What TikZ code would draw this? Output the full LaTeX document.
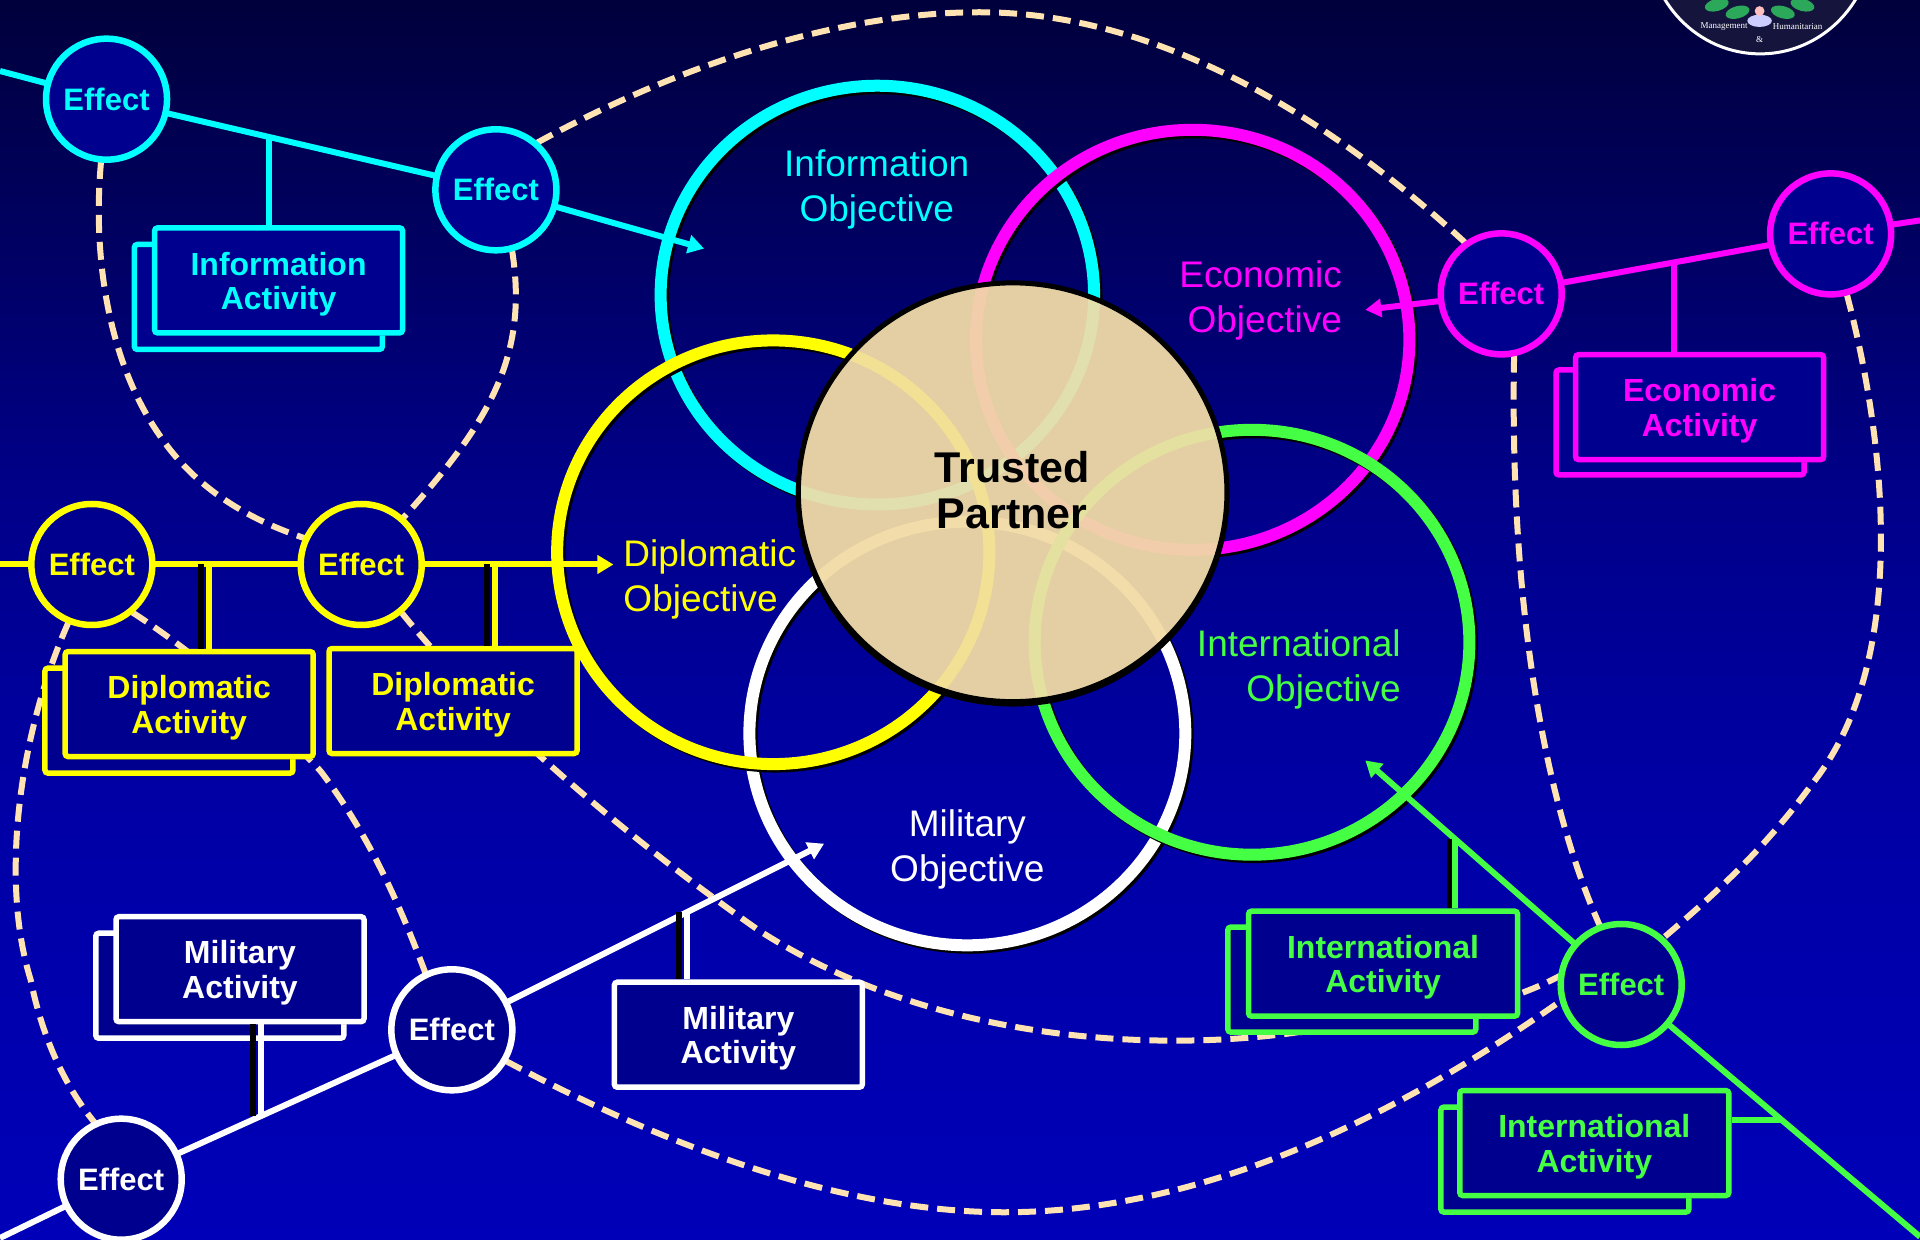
\documentclass[tikz,border=0pt]{standalone}
\usepackage{fontspec}
\setmainfont{Liberation Sans}
\newfontfamily\logofont{Liberation Serif}
\usetikzlibrary{arrows.meta,shadows,calc}
\definecolor{cCyan}{HTML}{00FFFF}
\definecolor{cMag}{HTML}{FF00FF}
\definecolor{cYel}{HTML}{FFFF00}
\definecolor{cGrn}{HTML}{44FF44}
\definecolor{cDash}{HTML}{FFE3B3}
\definecolor{cFill}{HTML}{00008E}
\definecolor{cTan}{HTML}{E3CFA3}
\definecolor{cSeal}{HTML}{14143C}
\definecolor{cLeaf}{HTML}{2BA85A}
\definecolor{tCyan}{HTML}{E2DFAE}
\definecolor{tMag}{HTML}{F2CDAB}
\definecolor{tWhite}{HTML}{F2DDAA}
\definecolor{tYel}{HTML}{F2E095}
\definecolor{tGrn}{HTML}{E4E09F}
\definecolor{sA}{HTML}{0000B8}
\definecolor{sB}{HTML}{0000A5}
\definecolor{sC}{HTML}{000088}
\definecolor{sD}{HTML}{000050}
\definecolor{sE}{HTML}{00003C}
\pgfdeclareverticalshading{bgshade}{100bp}{
  color(0bp)=(sA);
  color(25bp)=(sA);
  color(42.75bp)=(sB);
  color(55.5bp)=(sC);
  color(70bp)=(sD);
  color(75bp)=(sE);
  color(100bp)=(sE)}
\tikzset{
  softshadow/.style={general shadow={fill=black,shadow xshift=1.5pt,shadow yshift=-2.5pt}},
  effectnode/.style={circle,draw=#1,text=#1,fill=cFill,line width=6.5pt,minimum size=121pt,inner sep=0pt,
    font=\fontsize{31}{35}\selectfont\bfseries,softshadow},
  actbox/.style={rectangle,rounded corners=3pt,draw=#1,text=#1,fill=cFill,line width=5.5pt,minimum height=105pt,
    minimum width=248pt,inner sep=0pt,align=center,font=\fontsize{32}{34.5}\selectfont\bfseries,softshadow},
  objring/.style={line width=12pt},
  objtext/.style={text=#1,inner sep=0pt,font=\fontsize{37}{45}\selectfont},
  conn/.style={draw=#1,line width=6pt},
  blk/.style={draw=black,line width=6pt},
  arr/.style={conn=#1,-{Triangle[length=16pt,width=18pt]}},
  dashline/.style={draw=cDash,line width=6pt,dash pattern=on 18pt off 9pt},
  sealtext/.style={text=white,inner sep=0pt,font=\logofont\fontsize{9}{9}\selectfont},
  ghost/.style={circle,minimum size=124pt,inner sep=0pt,outer sep=0pt},
}
\newcommand{\ringdraw}[5]{%
  \draw[objring,black] (#1+2,#2+2) circle[x radius=#3,y radius=#4];
  \draw[objring,#5] (#1,#2) circle[x radius=#3,y radius=#4];}
\newcommand{\boxlift}{\rule{0pt}{30.5pt}}
\begin{document}
\begin{tikzpicture}[x=1.2245pt,y=-1.2245pt]
\path[use as bounding box] (0,0) rectangle (1568,1012.65);
\clip (0,0) rectangle (1568,1012.65);
\shade[shading=bgshade] (0,0) rectangle (1568,1012.65);
% seal
\filldraw[fill=cSeal,draw=white,line width=3pt] (1437.5,-51) circle[x radius=92,y radius=95];
\fill[cLeaf,rotate around={15:(1419,10)}] (1419,10) circle[x radius=10,y radius=5];
\fill[cLeaf,rotate around={-15:(1456,10)}] (1456,10) circle[x radius=10,y radius=5];
\fill[cLeaf,rotate around={15:(1402,4)}] (1402,4) circle[x radius=10,y radius=5];
\fill[cLeaf,rotate around={-15:(1472,4)}] (1472,4) circle[x radius=10,y radius=5];
\fill[blue!20!white] (1437,17) circle[x radius=10,y radius=5];
\fill[pink] (1437,9) circle[radius=4];
\node[sealtext] (S1) at (1408,22) {Management};
\node[sealtext] (S2) at (1437,32) {\&};
\node[sealtext] (S3) at (1468,22) {Humanitarian};
% objective rings
\ringdraw{716.5}{241}{177}{171}{cCyan}
\ringdraw{974}{277.5}{177}{171.5}{cMag}
\ringdraw{790}{599}{178}{173}{white}
\ringdraw{631.5}{451}{176.5}{173}{cYel}
\ringdraw{1022.5}{524.5}{177.5}{173.5}{cGrn}
% trusted partner disc with tinted ring overlaps
\fill[black] (827,404) circle[x radius=177,y radius=173];
\fill[cTan] (827,402) circle[x radius=175,y radius=171];
\begin{scope}
\clip (827,402) circle[x radius=175,y radius=171];
\draw[objring,tCyan] (716.5,241) circle[x radius=177,y radius=171];
\draw[objring,tMag] (974,277.5) circle[x radius=177,y radius=171.5];
\draw[objring,tWhite] (790,599) circle[x radius=178,y radius=173];
\draw[objring,tYel] (631.5,451) circle[x radius=176.5,y radius=173];
\draw[objring,tGrn] (1022.5,524.5) circle[x radius=177.5,y radius=173.5];
\end{scope}
\draw[black,line width=5pt] (827,402) circle[x radius=175,y radius=171];
\node[align=center,text=black,inner sep=0pt,font=\fontsize{43}{46.5}\selectfont\bfseries] (TP) at (826.5,400.3) {Trusted\\Partner};
\path
  (87,81) coordinate (cE1) (405,155) coordinate (cE2)
  (75,461) coordinate (cE3) (295,461) coordinate (cE4)
  (369,841) coordinate (cE5) (99,963) coordinate (cE6)
  (1324,804) coordinate (cE7) (1226,240) coordinate (cE8)
  (1495,191) coordinate (cE9);
% free ends
\coordinate (tipInfo) at (575,203);
\coordinate (tipDip) at (501,461);
\coordinate (tipEco) at (1115,253);
\coordinate (tipMil) at (673,689);
\coordinate (tipInt) at (1115,621);
\coordinate (edgeInfo) at (0,58);
\coordinate (edgeDip) at (0,461);
\coordinate (edgeEco) at (1568,180);
\coordinate (edgeMil) at (0,1011);
\coordinate (edgeInt) at (1568,1010);
% dashed links
\foreach \n in {1,...,9}{\node[ghost] (G\n) at (cE\n) {};}
\draw[dashline] (G2.49) .. controls (560,50) and (690,10) .. (800,10)
  .. controls (950,10) and (1090,100) .. (G8.125);
\draw[dashline] (G1.-95) .. controls (76,200) and (85,290) .. (130,355)
  .. controls (160,400) and (205,425) .. (G4.155);
\draw[dashline] (G2.-75) .. controls (432,290) and (400,345) .. (G4.48);
\draw[dashline] (G3.-50) .. controls (170,540) and (235,600) .. (262,630)
  .. controls (300,680) and (325,735) .. (G5.115);
\draw[dashline] (G3.-112) .. controls (15,600) and (0,720) .. (25,800)
  .. controls (35,850) and (55,890) .. (G6.115);
\draw[dashline] (G4.-50) .. controls (400,590) and (520,690) .. (620,760)
  .. controls (760,850) and (940,860) .. (1060,843)
  .. controls (1140,838) and (1220,826) .. (G7.172);
\draw[dashline] (G5.-30) .. controls (560,945) and (700,990) .. (820,990)
  .. controls (990,990) and (1150,905) .. (G7.195);
\draw[dashline] (G8.-78) .. controls (1233,470) and (1255,640) .. (G7.110);
\draw[dashline] (G9.-75) .. controls (1540,360) and (1560,540) .. (1480,640)
  .. controls (1440,695) and (1395,735) .. (G7.48);
% branch junctions
\coordinate (jInfo) at (220,112);
\coordinate (jDipA) at (170.5,461);
\coordinate (jDipB) at (404,461);
\coordinate (jEco) at (1367,214);
\coordinate (jMilB) at (561,745);
\coordinate (jMilA) at (213,911.5);
\coordinate (jIntA) at (1188,685);
\coordinate (jIntB) at (1455,915);
% connectors
\draw[conn=cCyan] (edgeInfo) -- (G1);
\draw[conn=cCyan] (G1) -- (G2);
\draw[arr=cCyan] (G2) -- (tipInfo);
\draw[conn=cYel] (edgeDip) -- (G3);
\draw[conn=cYel] (G3) -- (G4);
\draw[arr=cYel] (G4) -- (tipDip);
\draw[conn=cMag] (edgeEco) -- (G9);
\draw[conn=cMag] (G9) -- (G8);
\draw[arr=cMag] (G8) -- (tipEco);
\draw[conn=white] (edgeMil) -- (G6);
\draw[conn=white] (G6) -- (G5);
\draw[arr=white] (G5) -- (tipMil);
\draw[arr=cGrn] (G7) -- (tipInt);
\draw[conn=cGrn] (G7) -- (edgeInt);
% activity boxes
\node[actbox=cCyan] (IAb) at (211,242.5) {};
\node[actbox=cCyan] (IA) at (227.5,229) {\boxlift Information\\Activity};
\node[actbox=cMag] (EAb) at (1372,345) {};
\node[actbox=cMag] (EA) at (1388,332.5) {\boxlift Economic\\Activity};
\node[actbox=cYel] (DAb) at (138,588.5) {};
\node[actbox=cYel] (DA) at (154.5,575) {\boxlift Diplomatic\\Activity};
\node[actbox=cYel] (DB) at (370,572.5) {\boxlift Diplomatic\\Activity};
\node[actbox=white] (MAb) at (179.5,805) {};
\node[actbox=white] (MA) at (196,791.5) {\boxlift Military\\Activity};
\node[actbox=white] (MB) at (603,845) {\boxlift Military\\Activity};
\node[actbox=cGrn] (IAAb) at (1104,800) {};
\node[actbox=cGrn,minimum width=269pt] (IAA) at (1129.5,787) {\boxlift International\\Activity};
\node[actbox=cGrn] (IBAb) at (1278,947) {};
\node[actbox=cGrn,minimum width=269pt] (IBA) at (1302,933.5) {\boxlift International\\Activity};
% branches
\draw[conn=cCyan] (jInfo) -- (jInfo |- IA.north);
\draw[blk] ([xshift=-8pt]jDipA) -- ([xshift=-8pt]jDipA |- DA.north);
\draw[conn=cYel] (jDipA) -- (jDipA |- DA.north);
\draw[blk] ([xshift=-8pt]jDipB) -- ([xshift=-8pt]jDipB |- DB.north);
\draw[conn=cYel] (jDipB) -- (jDipB |- DB.north);
\draw[conn=cMag] (jEco) -- (jEco |- EA.north);
\draw[blk] ([xshift=-8pt]jMilB) -- ([xshift=-8pt]jMilB |- MB.north);
\draw[conn=white] (jMilB) -- (jMilB |- MB.north);
\draw[blk] ([xshift=-8pt]jMilA) -- ([xshift=-8pt]jMilA |- MA.south);
\draw[conn=white] (jMilA) -- (jMilA |- MA.south);
\draw[blk] ([xshift=-5pt]jIntA) -- ([xshift=-5pt]jIntA |- IAA.north);
\draw[conn=cGrn] (jIntA) -- (jIntA |- IAA.north);
\draw[conn=cGrn] (IBA.east |- jIntB) -- (jIntB);
% effect nodes
\node[effectnode=cCyan] (E1) at (cE1) {Effect};
\node[effectnode=cCyan] (E2) at (cE2) {Effect};
\node[effectnode=cYel] (E3) at (cE3) {Effect};
\node[effectnode=cYel] (E4) at (cE4) {Effect};
\node[effectnode=white] (E5) at (cE5) {Effect};
\node[effectnode=white] (E6) at (cE6) {Effect};
\node[effectnode=cGrn] (E7) at (cE7) {Effect};
\node[effectnode=cMag] (E8) at (cE8) {Effect};
\node[effectnode=cMag] (E9) at (cE9) {Effect};
% objective labels
\node[objtext=cCyan,align=center] (OI) at (716,155) {Information\\Objective};
\node[objtext=cMag,align=right,anchor=east] (OE) at (1096,245.5) {Economic\\Objective};
\node[objtext=cYel,align=left,anchor=west] (OD) at (509,473.5) {Diplomatic\\Objective};
\node[objtext=cGrn,align=right,anchor=east] (ON) at (1144,547) {International\\Objective};
\node[objtext=white,align=center] (OM) at (790,694) {Military\\Objective};
\end{tikzpicture}
\end{document}
